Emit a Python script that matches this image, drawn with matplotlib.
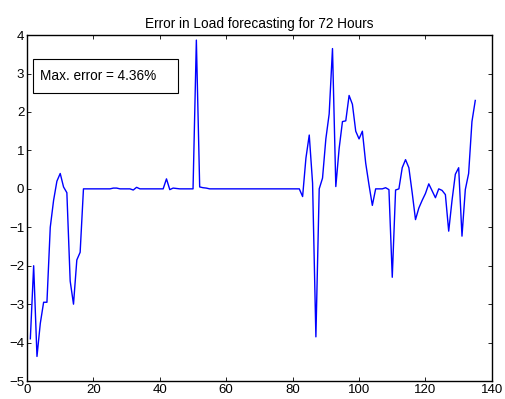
import matplotlib
matplotlib.use("Agg")
import matplotlib.pyplot as plt
from matplotlib.patches import Rectangle
import numpy as np

plt.rcParams['font.family'] = ['Liberation Sans', 'DejaVu Sans']

title = "Error in Load forecasting for 72 Hours"
annotation = "Max. error = 4.36%"

err_1_17 = [-3.9, -2.0, -4.36, -3.5, -2.95, -2.95, -1.0, -0.3, 0.2, 0.4,
            0.05, -0.1, -2.4, -3.0, -1.85, -1.65, 0.0]
err_18_54 = [0.0, 0.0, 0.0, 0.0, 0.0, 0.0, 0.0, 0.0, 0.02, 0.02,
             0.0, 0.0, 0.0, 0.0, -0.03, 0.04, 0.0, 0.0, 0.0, 0.0,
             0.0, 0.0, 0.0, 0.0, 0.26, -0.02, 0.02, 0.01, 0.0, 0.0,
             0.0, 0.0, 0.0, 3.87, 0.05, 0.03, 0.02]
err_55_81 = [0.0] * 27
err_82_135 = [0.0, -0.2, 0.8, 1.4, 0.15, -3.85, 0.0, 0.28, 1.3, 1.95,
              3.65, 0.06, 1.05, 1.75, 1.77, 2.43, 2.2, 1.5, 1.3, 1.5,
              0.67, 0.1, -0.43, 0.0, 0.0, 0.0, 0.03, -0.02, -2.3, -0.03,
              0.0, 0.55, 0.76, 0.55, -0.1, -0.8, -0.5, -0.3, -0.12, 0.13,
              -0.05, -0.23, 0.0, -0.04, -0.15, -1.1, -0.3, 0.38, 0.55, -1.23,
              -0.02, 0.4, 1.75, 2.3]

errors = err_1_17 + err_18_54 + err_55_81 + err_82_135
hours = list(range(1, len(errors) + 1))

xticks = [0, 20, 40, 60, 80, 100, 120, 140]
yticks = [-5, -4, -3, -2, -1, 0, 1, 2, 3, 4]

fig = plt.figure(figsize=(5.05, 3.99), dpi=100)
ax = fig.add_axes([0.0535, 0.045, 0.9205, 0.867])
ax.plot(hours, errors, color='#0000ff', linewidth=1.0)
ax.set_xlim(0, 140)
ax.set_ylim(-5, 4)
ax.set_xticks(xticks)
ax.set_yticks(yticks)
ax.tick_params(direction='in', top=True, right=True, labelsize=9.5,
               length=3, width=0.6, pad=2)
for s in ax.spines.values():
    s.set_linewidth(1.0)
ax.set_title(title, fontsize=9.8, pad=5)

ax.add_patch(Rectangle((0.0136, 0.834), 0.312, 0.096, transform=ax.transAxes,
                       facecolor='white', edgecolor='black', linewidth=0.8, zorder=5))
ax.text(0.028, 0.882, annotation, transform=ax.transAxes, fontsize=9.8,
        va='center', ha='left', zorder=6)

fig.savefig("out.png", dpi=100)
